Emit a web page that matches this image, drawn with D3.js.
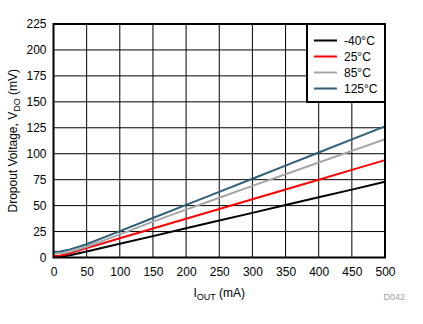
<!DOCTYPE html>
<html>
<head>
<meta charset="utf-8">
<script src="https://cdn.jsdelivr.net/npm/d3@7"></script>
<style>
  html, body { margin: 0; padding: 0; background: #fff; }
  svg { display: block; font-family: "Liberation Sans", Arial, sans-serif; }
</style>
</head>
<body>
<svg id="chart" width="423" height="324"></svg>
<script>
// Output current (mA) sample points
const currents = [0, 10, 25, 50, 100, 150, 200, 250, 300, 350, 400, 450, 500];

// Dropout voltage (mV) for each temperature
const vdoMinus40 = [0.5, 0.8, 2.2, 5.7, 13.2, 20.6, 28.1, 35.6, 43.0, 50.5, 58.0, 65.4, 72.9];
const vdo25      = [1.5, 1.8, 4.0, 9.0, 18.5, 27.9, 37.3, 46.7, 56.1, 65.5, 74.9, 84.4, 93.8];
const vdo85      = [3.5, 3.8, 5.6, 10.3, 22.3, 34.6, 46.1, 57.6, 69.0, 80.2, 91.5, 102.7, 113.9];
const vdo125     = [5.5, 5.8, 7.8, 12.8, 25.4, 38.1, 50.7, 63.3, 75.9, 88.5, 101.2, 113.8, 126.4];

const seriesNames = ["-40°C", "25°C", "85°C", "125°C"];
const seriesColors = ["#000000", "#ff0000", "#a6a6a6", "#2f5f78"];

const xTicks = [0, 50, 100, 150, 200, 250, 300, 350, 400, 450, 500];
const yTicks = [0, 25, 50, 75, 100, 125, 150, 175, 200, 225];

const series = [vdoMinus40, vdo25, vdo85, vdo125].map((vals, i) => ({
  name: seriesNames[i],
  color: seriesColors[i],
  points: currents.map((c, j) => [c, vals[j]])
}));

const svg = d3.select("#chart");
const plot = { left: 53.5, right: 385, top: 24, bottom: 257.5 };

const x = d3.scaleLinear().domain([0, 500]).range([plot.left, plot.right]);
const y = d3.scaleLinear().domain([0, 225]).range([plot.bottom, plot.top]);

// grid
const grid = svg.append("g");
grid.selectAll("line.v").data(xTicks).join("line")
  .attr("x1", d => x(d)).attr("x2", d => x(d))
  .attr("y1", plot.top).attr("y2", plot.bottom)
  .attr("stroke", "#000").attr("stroke-width", 1);
grid.selectAll("line.h").data(yTicks).join("line")
  .attr("x1", plot.left).attr("x2", plot.right)
  .attr("y1", d => y(d)).attr("y2", d => y(d))
  .attr("stroke", "#000").attr("stroke-width", 1);

// axes (tick labels only, lines come from the grid and frame)
const xAxis = svg.append("g")
  .attr("transform", `translate(0,${plot.bottom})`)
  .call(d3.axisBottom(x).tickValues(xTicks).tickSize(0).tickPadding(10).tickFormat(d3.format("d")));
const yAxis = svg.append("g")
  .attr("transform", `translate(${plot.left},0)`)
  .call(d3.axisLeft(y).tickValues(yTicks).tickSize(0).tickPadding(7).tickFormat(d3.format("d")));
[xAxis, yAxis].forEach(a => {
  a.select(".domain").remove();
  a.selectAll("text").attr("font-size", 12).attr("fill", "#000")
    .attr("font-family", "'Liberation Sans', Arial, sans-serif");
});

// data lines
const line = d3.line().x(d => x(d[0])).y(d => y(d[1]));
svg.append("g").selectAll("path").data(series).join("path")
  .attr("d", d => line(d.points))
  .attr("fill", "none")
  .attr("stroke", d => d.color)
  .attr("stroke-width", 2);

// frame
svg.append("rect")
  .attr("x", plot.left).attr("y", plot.top)
  .attr("width", plot.right - plot.left).attr("height", plot.bottom - plot.top)
  .attr("fill", "none").attr("stroke", "#000").attr("stroke-width", 2);

// legend
const legend = svg.append("g");
legend.append("rect")
  .attr("x", 307).attr("y", plot.top)
  .attr("width", plot.right - 307).attr("height", 78)
  .attr("fill", "#fff").attr("stroke", "#000").attr("stroke-width", 2);
const items = legend.selectAll("g.item").data(series).join("g")
  .attr("transform", (d, i) => `translate(0,${40.5 + i * 16})`);
items.append("line")
  .attr("x1", 314).attr("x2", 337).attr("y1", 0).attr("y2", 0)
  .attr("stroke", d => d.color).attr("stroke-width", 2);
items.append("text")
  .attr("x", 344).attr("y", 0).attr("dy", "0.35em")
  .attr("font-size", 12).attr("fill", "#000")
  .text(d => d.name);

// axis titles
const xt = svg.append("text")
  .attr("x", (plot.left + plot.right) / 2).attr("y", 297)
  .attr("text-anchor", "middle").attr("font-size", 12).attr("fill", "#000");
xt.append("tspan").text("I");
xt.append("tspan").attr("font-size", 9).attr("dy", 3).text("OUT");
xt.append("tspan").attr("dy", -3).text(" (mA)");

const yt = svg.append("text")
  .attr("transform", `translate(17,${(plot.top + plot.bottom) / 2}) rotate(-90)`)
  .attr("text-anchor", "middle").attr("font-size", 12).attr("fill", "#000");
yt.append("tspan").text("Dropout Voltage, V");
yt.append("tspan").attr("font-size", 9).attr("dy", 3).text("DO");
yt.append("tspan").attr("dy", -3).text(" (mV)");

svg.append("text")
  .attr("x", 405).attr("y", 300)
  .attr("text-anchor", "end").attr("font-size", 9).attr("fill", "#a0a0a0")
  .text("D042");
</script>
</body>
</html>
